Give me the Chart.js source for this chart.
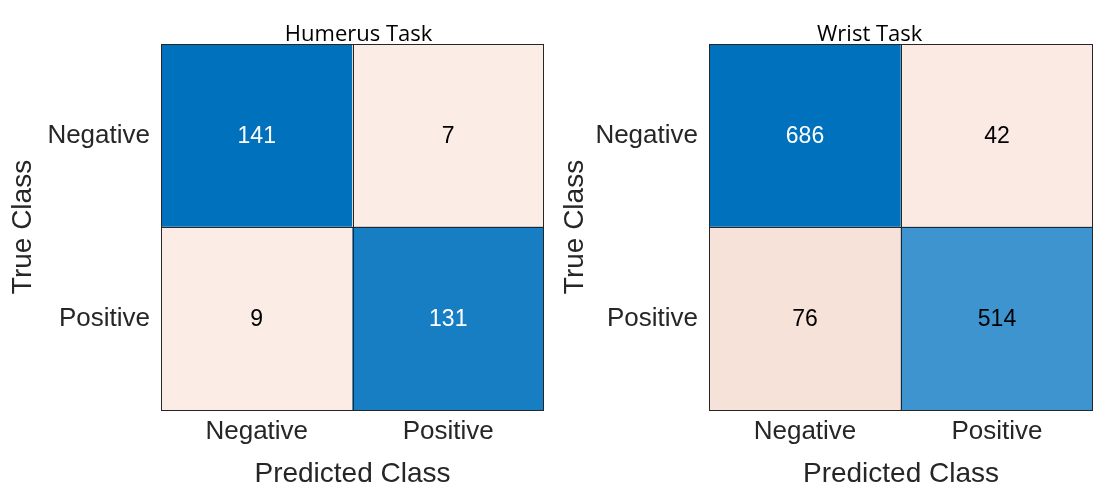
<!DOCTYPE html>
<html>
<head>
<meta charset="utf-8">
<script src="https://cdn.jsdelivr.net/npm/chart.js@4.4.1/dist/chart.umd.min.js"></script>
<style>
  html, body { margin: 0; padding: 0; background: #fff; }
  #wrap { position: relative; width: 1104px; height: 491px; }
  .panel { position: absolute; top: 0; width: 552px; height: 491px; }
</style>
</head>
<body>
<div id="wrap">
  <div class="panel" style="left:0"><canvas id="humerus"></canvas></div>
  <div class="panel" style="left:552px"><canvas id="wrist"></canvas></div>
</div>
<script>
// classes (rows = true class, columns = predicted class)
const classes = ['Negative', 'Positive'];
const titles = ['Humerus Task', 'Wrist Task'];
// counts[row][col]
const humerusCounts = [[141, 7], [9, 131]];
const wristCounts = [[686, 42], [76, 514]];

// cell colours and text colours, same layout as the counts
const humerusFill = [['#0072BD', '#FBECE6'], ['#FBECE6', '#177EC4']];
const humerusInk = [['#ffffff', '#000000'], ['#000000', '#ffffff']];
const wristFill = [['#0072BD', '#FAEAE3'], ['#F7E2D9', '#3D94CF']];
const wristInk = [['#ffffff', '#000000'], ['#000000', '#000000']];

const axisFont = 'Arial, "Liberation Sans", sans-serif';
const inkGray = '#262626';

// one bar per cell, stacked: bottom row first
function makeDatasets(counts, fill) {
  var sets = [];
  for (var r = classes.length - 1; r >= 0; r--) {
    sets.push({
      label: classes[r],
      data: counts[r].map(function () { return 1; }),
      counts: counts[r],
      backgroundColor: fill[r],
      borderWidth: 0,
      barPercentage: 1,
      categoryPercentage: 1
    });
  }
  return sets;
}

const cellPlugin = {
  id: 'cells',
  afterDatasetsDraw(chart, args, opts) {
    var ctx = chart.ctx;
    var xs = chart.scales.x, ys = chart.scales.y;
    ctx.save();
    // cell values
    ctx.font = '23px ' + axisFont;
    ctx.textAlign = 'center';
    ctx.textBaseline = 'middle';
    chart.data.datasets.forEach(function (ds, di) {
      var meta = chart.getDatasetMeta(di);
      var r = classes.length - 1 - di;
      meta.data.forEach(function (bar, ci) {
        ctx.fillStyle = opts.ink[r][ci];
        ctx.fillText(String(ds.counts[ci]), bar.x, (bar.y + bar.base) / 2 + 1);
      });
    });
    // cell borders
    ctx.strokeStyle = inkGray;
    ctx.lineWidth = 1;
    var a = chart.chartArea;
    ctx.beginPath();
    for (var i = 0; i <= classes.length; i++) {
      var yy = Math.round(ys.getPixelForValue(i)) + 0.5;
      ctx.moveTo(a.left, yy); ctx.lineTo(a.right, yy);
    }
    var left = Math.round(a.left) + 0.5, right = Math.round(a.right) - 0.5;
    var mid = Math.round((xs.getPixelForValue(0) + xs.getPixelForValue(1)) / 2) + 0.5;
    [left, mid, right].forEach(function (xx) {
      ctx.moveTo(xx, a.top); ctx.lineTo(xx, a.bottom);
    });
    ctx.stroke();
    // title
    ctx.fillStyle = '#000';
    ctx.font = '22px "Open Sans", sans-serif';
    ctx.textBaseline = 'alphabetic';
    ctx.fillText(opts.title, opts.titleX, a.top - 3);
    ctx.restore();
  }
};

function makeChart(id, title, counts, fill, ink, yWidth, padRight, titleX) {
  new Chart(document.getElementById(id), {
    type: 'bar',
    data: { labels: classes, datasets: makeDatasets(counts, fill) },
    options: {
      responsive: true,
      maintainAspectRatio: false,
      animation: false,
      layout: { padding: { top: 44, right: padRight, left: 0, bottom: 0 } },
      plugins: {
        legend: { display: false },
        tooltip: { enabled: false },
        cells: { title: title, titleX: titleX, ink: ink }
      },
      scales: {
        x: {
          stacked: true,
          grid: { display: false, drawTicks: false },
          border: { display: false },
          ticks: { color: inkGray, font: { size: 26, family: axisFont }, padding: 6 },
          title: { display: true, text: 'Predicted Class', color: inkGray,
                   font: { size: 28, family: axisFont }, padding: 0 },
          afterFit: function (s) { s.height = 81; }
        },
        y: {
          stacked: true,
          min: 0,
          max: classes.length,
          grid: { display: false, drawTicks: false },
          border: { display: false },
          afterBuildTicks: function (s) {
            s.ticks = classes.map(function (c, i) { return { value: i + 0.5 }; });
          },
          ticks: {
            color: inkGray,
            font: { size: 26, family: axisFont },
            padding: 11,
            callback: function (v) { return classes[classes.length - 1 - Math.floor(v)]; }
          },
          title: { display: true, text: 'True Class', color: inkGray,
                   font: { size: 28, family: axisFont }, padding: 6 },
          afterFit: function (s) { s.width = yWidth; }
        }
      }
    },
    plugins: [cellPlugin]
  });
}

makeChart('humerus', titles[0], humerusCounts, humerusFill, humerusInk, 161, 8, 358.6);
makeChart('wrist', titles[1], wristCounts, wristFill, wristInk, 157, 11, 317.7);
</script>
</body>
</html>
